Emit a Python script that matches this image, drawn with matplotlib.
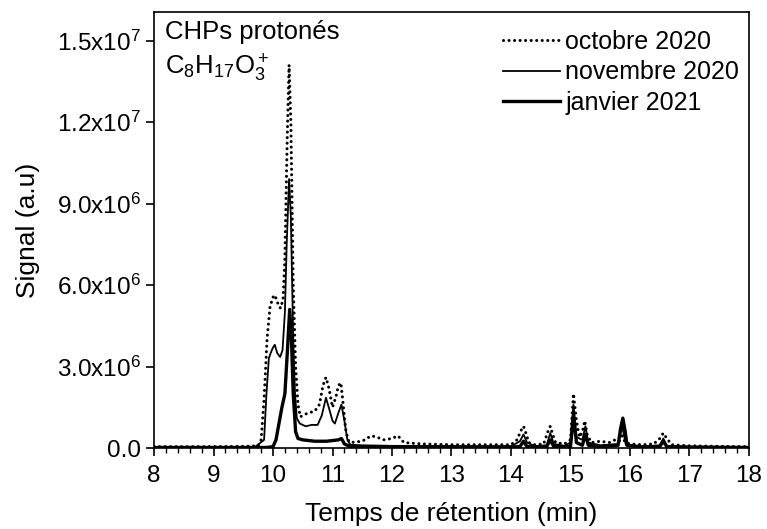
import matplotlib
matplotlib.use("Agg")
import matplotlib.pyplot as plt
from matplotlib.ticker import MultipleLocator, FuncFormatter

plt.rcParams["font.family"] = ["Liberation Sans", "DejaVu Sans"]
plt.rcParams["mathtext.default"] = "regular"

# retention time (min) and signal (x1e6)
oct_t = [8.0, 8.5, 9.0, 9.5, 9.75, 9.8, 9.85, 9.9, 9.95, 10.0, 10.03, 10.07,
         10.1, 10.13, 10.17, 10.2, 10.24, 10.27, 10.3, 10.34, 10.38, 10.42,
         10.46, 10.5, 10.6, 10.7, 10.78, 10.84, 10.89, 10.94, 11.0, 11.06,
         11.1, 11.14, 11.18, 11.22, 11.26, 11.3, 11.5, 11.65, 11.75, 11.85,
         12.0, 12.1, 12.2, 12.5, 13.0, 13.5, 14.0, 14.1, 14.17, 14.21, 14.25,
         14.3, 14.4, 14.55, 14.62, 14.66, 14.7, 14.75, 14.9, 15.0, 15.05,
         15.1, 15.15, 15.2, 15.24, 15.28, 15.35, 15.5, 15.65, 15.75, 15.82,
         15.87, 15.92, 16.0, 16.2, 16.4, 16.5, 16.56, 16.62, 16.7, 17.0,
         17.5, 18.0]
oct_sig = [0.05, 0.05, 0.05, 0.06, 0.08, 0.3, 1.8, 4.0, 5.2, 5.55, 5.63, 5.4,
           5.2, 5.15, 5.5, 7.0, 11.5, 14.1, 12.0, 6.0, 3.0, 1.6,
           1.15, 1.2, 1.3, 1.35, 1.6, 2.3, 2.6, 2.2, 1.5, 1.9,
           2.3, 2.4, 1.6, 0.7, 0.3, 0.2, 0.25, 0.45, 0.4, 0.3,
           0.35, 0.45, 0.2, 0.15, 0.12, 0.12, 0.12, 0.3, 0.65, 0.8, 0.55,
           0.2, 0.12, 0.15, 0.6, 0.8, 0.5, 0.2, 0.15, 0.3, 2.0,
           1.0, 0.4, 0.6, 1.0, 0.5, 0.2, 0.25, 0.2, 0.3, 0.25,
           0.45, 0.2, 0.15, 0.12, 0.15, 0.35, 0.55, 0.35, 0.12, 0.08,
           0.06, 0.05]

nov_t = [8.0, 9.0, 9.7, 9.85, 9.89, 9.93, 9.97, 10.0, 10.03, 10.07, 10.12,
         10.16, 10.2, 10.23, 10.27, 10.3, 10.34, 10.37, 10.4, 10.45, 10.55,
         10.65, 10.75, 10.82, 10.89, 10.95, 11.0, 11.04, 11.1, 11.15, 11.2,
         11.25, 11.3, 11.5, 12.0, 13.0, 14.0, 14.15, 14.21, 14.27, 14.4,
         14.6, 14.66, 14.72, 14.9, 15.0, 15.05, 15.1, 15.2, 15.25, 15.3,
         15.5, 15.8, 15.87, 15.93, 16.2, 16.5, 16.56, 16.62, 17.0, 18.0]
nov_sig = [0.03, 0.03, 0.04, 0.3, 2.0, 3.3, 3.55, 3.7, 3.8, 3.5, 3.35,
           3.6, 5.0, 7.5, 9.9, 8.5, 4.0, 2.0, 1.1, 0.9, 0.8,
           0.85, 0.85, 1.2, 1.85, 1.4, 1.0, 0.9, 1.3, 1.6, 1.0,
           0.3, 0.12, 0.1, 0.08, 0.07, 0.06, 0.25, 0.5, 0.2, 0.07,
           0.1, 0.55, 0.15, 0.08, 0.2, 1.6, 0.4, 0.3, 0.8, 0.2,
           0.1, 0.15, 0.8, 0.12, 0.06, 0.1, 0.35, 0.08, 0.05, 0.04]

jan_t = [8.0, 9.0, 9.9, 10.0, 10.05, 10.1, 10.15, 10.2, 10.24, 10.28, 10.31,
         10.34, 10.38, 10.42, 10.5, 10.7, 10.9, 11.1, 11.15, 11.2, 11.3,
         12.0, 13.0, 14.0, 14.15, 14.21, 14.27, 14.6, 14.66, 14.72, 15.0,
         15.05, 15.1, 15.2, 15.25, 15.3, 15.5, 15.8, 15.84, 15.88, 15.92,
         15.95, 16.2, 16.5, 16.56, 16.62, 17.0, 18.0]
jan_sig = [0.02, 0.02, 0.02, 0.05, 0.3, 0.9, 1.5, 2.0, 3.5, 5.1, 4.0,
           2.0, 0.6, 0.35, 0.3, 0.25, 0.25, 0.3, 0.35, 0.15, 0.05,
           0.04, 0.04, 0.04, 0.05, 0.25, 0.05, 0.05, 0.3, 0.05, 0.05,
           1.2, 0.2, 0.1, 0.5, 0.1, 0.05, 0.1, 0.7, 1.1, 0.6,
           0.1, 0.04, 0.05, 0.25, 0.05, 0.03, 0.02]

labels = ["octobre 2020", "novembre 2020", "janvier 2021"]


def sci_label(v, pos):
    if abs(v) < 1:
        return "0.0"
    exp = len(str(int(round(v)))) - 1
    mant = v / 10 ** exp
    return r"$%.1fx10^{%d}$" % (mant, exp)


fig = plt.figure(figsize=(7.67, 5.29), dpi=100)
ax = fig.add_axes([0.2008, 0.1531, 0.7757, 0.8242])

ax.plot(oct_t, [s * 1e6 for s in oct_sig], color="black", lw=2.2,
        linestyle=(0, (0.01, 1.8)), dash_capstyle="round", label=labels[0])
ax.plot(nov_t, [s * 1e6 for s in nov_sig], color="black", lw=1.3,
        label=labels[1])
ax.plot(jan_t, [s * 1e6 for s in jan_sig], color="black", lw=2.4,
        label=labels[2])

ax.set_xlim(8, 18)
ax.set_ylim(0, 1.605e7)
ax.xaxis.set_major_locator(MultipleLocator(1))
ax.xaxis.set_minor_locator(MultipleLocator(0.2))
ax.yaxis.set_major_locator(MultipleLocator(3e6))
ax.yaxis.set_major_formatter(FuncFormatter(sci_label))
ax.tick_params(which="major", direction="out", length=6, width=1.2,
               labelsize=17.5)
ax.tick_params(axis="x", which="major", pad=6)
ax.tick_params(which="minor", direction="out", length=3.5, width=1.0)
ax.tick_params(axis="y", which="minor", left=False)
for sp in ax.spines.values():
    sp.set_linewidth(1.2)

ax.set_xlabel("Temps de rétention (min)", fontsize=19, labelpad=11)
ax.set_ylabel("Signal (a.u)", fontsize=19, labelpad=12)

ax.text(0.018, 0.954, "CHPs protonés", transform=ax.transAxes,
        fontsize=18.5, va="center", ha="left")
ax.text(0.018, 0.872, r"$C_8H_{17}O_3^+$", transform=ax.transAxes,
        fontsize=18.5, va="center", ha="left")

ax.legend(loc="upper right", bbox_to_anchor=(1.013, 1.0), frameon=False,
          fontsize=18, handlelength=2.3, handletextpad=0.2,
          labelspacing=0.27, borderaxespad=0.3)

fig.savefig("out.png", dpi=100)
